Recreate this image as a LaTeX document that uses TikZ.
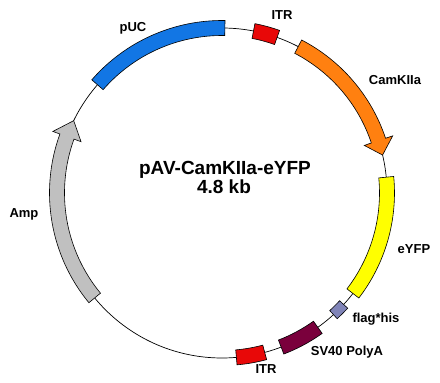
\documentclass[tikz,border=0pt]{standalone}
\usepackage{fontspec}
\setmainfont{Liberation Sans}
\definecolor{pucblue}{RGB}{18,118,228}
\definecolor{itrred}{RGB}{232,8,8}
\definecolor{camorange}{RGB}{255,128,16}
\definecolor{yfpyellow}{RGB}{255,255,0}
\definecolor{flagblue}{RGB}{128,132,184}
\definecolor{polymaroon}{RGB}{122,0,60}
\definecolor{ampgrey}{RGB}{192,192,192}
\tikzset{
  part/.style={draw=black,line width=0.6pt,line join=miter},
  backbone/.style={draw=black,line width=0.7pt},
  lbl/.style={font=\bfseries\fontsize{13}{15}\selectfont,anchor=base,inner sep=0pt},
  ttl/.style={font=\bfseries\fontsize{19}{21}\selectfont,anchor=base,inner sep=0pt}
}
\begin{document}
\begin{tikzpicture}[x=1pt,y=1pt]
\useasboundingbox (-222,-190) rectangle (218,193);
\draw[backbone] (0,0) circle (165);
% features
\draw[part,fill=pucblue] (89:172.5) arc (89:139:172.5) -- (139:157.5) arc (139:89:157.5) -- cycle;
\draw[part,fill=itrred] (70.5:172.5) arc (70.5:79:172.5) -- (79:157.5) arc (79:70.5:157.5) -- cycle;
\draw[part,fill=camorange] (62.5:172.5) arc (62.5:18.5:172.5) -- (18.5:180) -- (13.3:165) -- (18.5:150) -- (18.5:157.5) arc (18.5:62.5:157.5) -- cycle;
\draw[part,fill=yfpyellow] (5.5:172.5) arc (5.5:-37.5:172.5) -- (-37.5:157.5) arc (-37.5:5.5:157.5) -- cycle;
\draw[part,fill=flagblue] (-42.5:170.5) arc (-42.5:-47.5:170.5) -- (-47.5:159.5) arc (-47.5:-42.5:159.5) -- cycle;
\draw[part,fill=polymaroon] (-54.5:172.5) arc (-54.5:-69:172.5) -- (-69:157.5) arc (-69:-54.5:157.5) -- cycle;
\draw[part,fill=itrred] (-75:172.5) arc (-75:-85:172.5) -- (-85:157.5) arc (-85:-75:157.5) -- cycle;
\draw[part,fill=ampgrey] (219.5:172.5) arc (219.5:160:172.5) -- (160:180) -- (154:165) -- (160:150) -- (160:157.5) arc (160:219.5:157.5) -- cycle;
% labels
\node[lbl] (puc) at (-89,161) {pUC};
\node[lbl] (itrtop) at (60,173) {ITR};
\node[lbl] (camk) at (173,108) {CamKIIa};
\node[lbl] (eyfp) at (192,-60) {eYFP};
\node[lbl] (flag) at (154,-129) {flag*his};
\node[lbl] (sv40) at (125,-162) {SV40 PolyA};
\node[lbl] (itrbot) at (44,-180) {ITR};
\node[lbl] (amp) at (-198,-25) {Amp};
\node[ttl] (title) at (3,18) {pAV-CamKIIa-eYFP};
\node[ttl] (size) at (2,-1) {4.8 kb};
\end{tikzpicture}
\end{document}
